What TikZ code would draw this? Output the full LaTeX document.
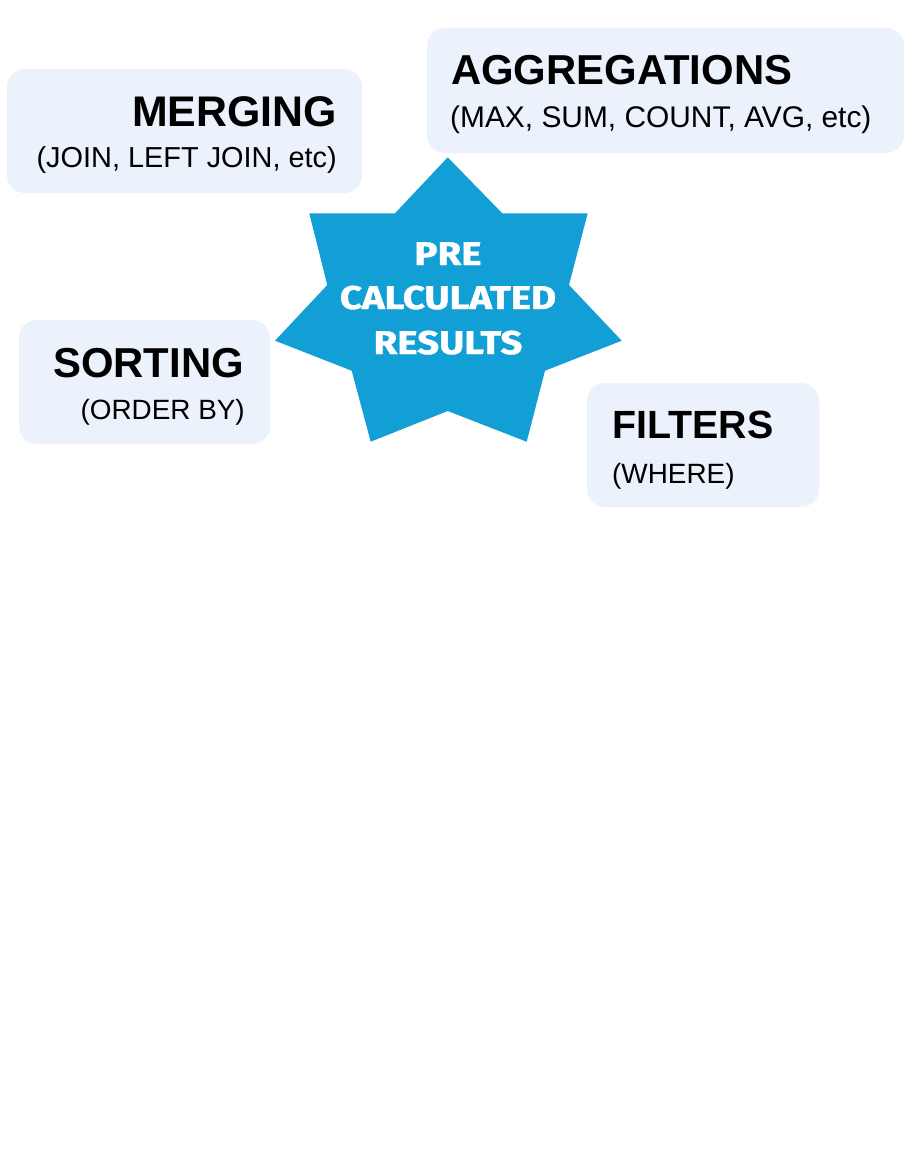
\documentclass[tikz,border=0pt]{standalone}
\usepackage{fontspec}
\setmainfont{Liberation Sans}
\newfontfamily\starfont[FakeBold=1.2]{Fira Sans}
\definecolor{boxfill}{HTML}{EBF2FB}
\definecolor{starblue}{HTML}{119FD6}
\begin{document}
\begin{tikzpicture}[x=1bp,y=-1bp,
  infobox/.style={fill=boxfill, rounded corners=18bp, draw=none},
  headtext/.style={inner sep=0pt, font=\bfseries\fontsize{#1}{#1}\selectfont},
  subtext/.style={inner sep=0pt, font=\fontsize{#1}{#1}\selectfont},
  startext/.style={inner sep=0pt, text=white, font=\starfont\bfseries\fontsize{33}{33}\selectfont}]
\path[use as bounding box, fill=white] (0,0) rectangle (908,1166);
% boxes
\fill[infobox] (7,69) rectangle (362,193);
\fill[infobox] (427,28) rectangle (904,153);
\fill[infobox] (19,320) rectangle (270,444);
\fill[infobox] (587,383) rectangle (819,507);
% star
\fill[starblue] (447.7,157.3) -- (502.3,213.3) -- (587.7,213.3) -- (569,285) -- (621.7,340.7)
  -- (545,370.7) -- (526.7,441.7) -- (447.7,411) -- (370.7,441.7) -- (351.7,370.7)
  -- (275,340.7) -- (327.3,285) -- (309.3,213.3) -- (395,213.3) -- cycle;
\node[startext, anchor=base] (s1) at (448,265) {\scalebox{1.17}[1]{PRE}};
\node[startext, anchor=base] (s2) at (448,309) {\scalebox{1.17}[1]{CALCULATED}};
\node[startext, anchor=base] (s3) at (448,354) {\scalebox{1.17}[1]{RESULTS}};
% merging
\node[headtext=43, anchor=base east] (mh) at (337,126) {MERGING};
\node[subtext=29, anchor=base east] (ms) at (337,167) {(JOIN, LEFT JOIN, etc)};
% aggregations
\node[headtext=42, anchor=base west] (ah) at (451,84) {AGGREGATIONS};
\node[subtext=30, anchor=base west] (as) at (450,127) {(MAX, SUM, COUNT, AVG, etc)};
% sorting
\node[headtext=42, anchor=base east] (sh) at (244,377) {SORTING};
\node[subtext=28, anchor=base east] (ss) at (245,419) {(ORDER BY)};
% filters
\node[headtext=39.5, anchor=base west] (fh) at (612,438) {FILTERS};
\node[subtext=28, anchor=base west] (fs) at (612,483) {(WHERE)};
\end{tikzpicture}
\end{document}
